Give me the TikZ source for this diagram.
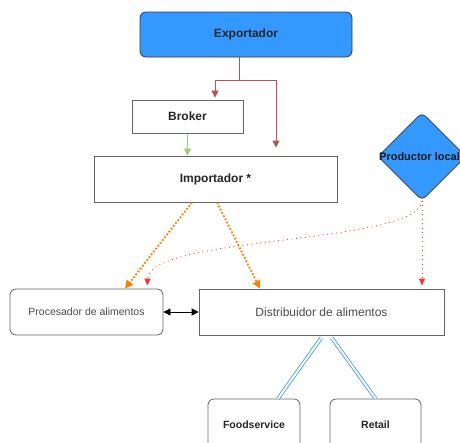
\documentclass[tikz,border=0pt]{standalone}
\usepackage{fontspec}
\setmainfont{Liberation Sans}
\usepackage{xcolor}
\usepackage{tikz}
\usetikzlibrary{arrows.meta,shapes.geometric}
\definecolor{boxblue}{HTML}{3399FF}
\definecolor{boxline}{HTML}{36393D}
\definecolor{brownred}{HTML}{B85450}
\definecolor{leafgreen}{HTML}{97D077}
\definecolor{flowred}{HTML}{FF3333}
\definecolor{floworange}{HTML}{FF8000}
\tikzset{
  style blue/.style={
    fill=boxblue,
    draw=boxline,
  },
  style plain/.style={
    fill=white,
    draw=black!60,
  },
  box/.style={
    rectangle, inner sep=0pt, line width=0.8pt,
    text=black!85, font=\bfseries\fontsize{12}{14}\selectfont,
    #1
  },
  flow orange/.style={
    draw=floworange, line width=1.8pt, dash pattern=on 1.8pt off 1.8pt,
    -{Triangle[length=8pt,width=8pt,fill=floworange]}
  },
  flow red/.style={
    draw=flowred, line width=0.9pt, dash pattern=on 0.9pt off 3.6pt,
    -{Triangle[length=7pt,width=6pt,fill=flowred]}, shorten >=3pt
  },
  channel/.style={
    draw=boxblue, line width=0.8pt, double=white, double distance=2pt
  }
}
\begin{document}
\begin{tikzpicture}[x=1pt,y=-1pt]
        \useasboundingbox (0,0) rectangle (460,442);
        \clip (0,0) rectangle (460,442);
        \begin{scope}[every node/.style={box}]
            \node[style blue, rounded corners=6pt, minimum width=212, minimum height=45] (exp) at (246,34.5) {Exportador};
            \node[style plain, minimum width=111, minimum height=33] (broker) at (187.5,116.5) {Broker};
            \node[style plain, minimum width=243, minimum height=46] (imp) at (215.5,179) {Importador *};
            \node[style blue, diamond, rounded corners=5pt, minimum width=88, minimum height=88, aspect=1] (prod) at (422,156.5) {};
            \node[text=black!90, font=\bfseries\fontsize{11}{13}\selectfont] (prodtxt) at ([xshift=-2.5pt]prod.center) {Productor local};

            \node[style plain, rounded corners=6pt, minimum width=153, minimum height=46,
                  font=\fontsize{10.5}{12}\selectfont, text=black!70] (proc) at (86.5,312) {Procesador de alimentos};
            \node[style plain, minimum width=245, minimum height=46,
                  font=\fontsize{12}{14}\selectfont, text=black!70] (dist) at (321.5,312) {Distribuidor de alimentos};

            \node[style plain, rounded corners=6pt, minimum width=92, minimum height=52,
                  font=\bfseries\fontsize{10.5}{12}\selectfont] (food) at (254,425) {Foodservice};
            \node[style plain, rounded corners=6pt, minimum width=91, minimum height=52,
                  font=\bfseries\fontsize{10.5}{12}\selectfont] (retail) at (375.5,425) {Retail};
        \end{scope}
        \coordinate (split) at (239,80);
        \begin{scope}[>={Triangle[length=7pt,width=7pt]}, line width=1pt]
            \draw[brownred] ([xshift=-7pt]exp.south) -- (split);
            \draw[brownred, ->, shorten >=2pt] (split) -| ([xshift=27.5pt]broker.north);
            \draw[brownred, ->, shorten >=8pt] (split) -| ([xshift=60.5pt]imp.north);

            \draw[leafgreen, ->, shorten <=0.5pt] (broker.south) -- (broker.south |- imp.north);

            \draw[black, <->, line width=0.8pt] (proc.east) -- (dist.west);
        \end{scope}

        \draw[flow orange] ([xshift=-23.5pt]imp.south) -- ([xshift=38.5pt]proc.north);
        \draw[flow orange] ([xshift=1.5pt]imp.south) -- ([xshift=-61.5pt]dist.north);

        \draw[flow red] (prod.south) -- (prod.south |- dist.north);
        \draw[flow red] (prod.south) .. controls (418,245) and (150,235) .. ([xshift=60.5pt]proc.north);

        \draw[channel, shorten <=3pt] ([xshift=1.5pt]dist.south) -- ([xshift=24pt]food.north);
        \draw[channel, shorten <=3pt] ([xshift=8.5pt]dist.south) -- (retail.north);
    \end{tikzpicture}
\end{document}
